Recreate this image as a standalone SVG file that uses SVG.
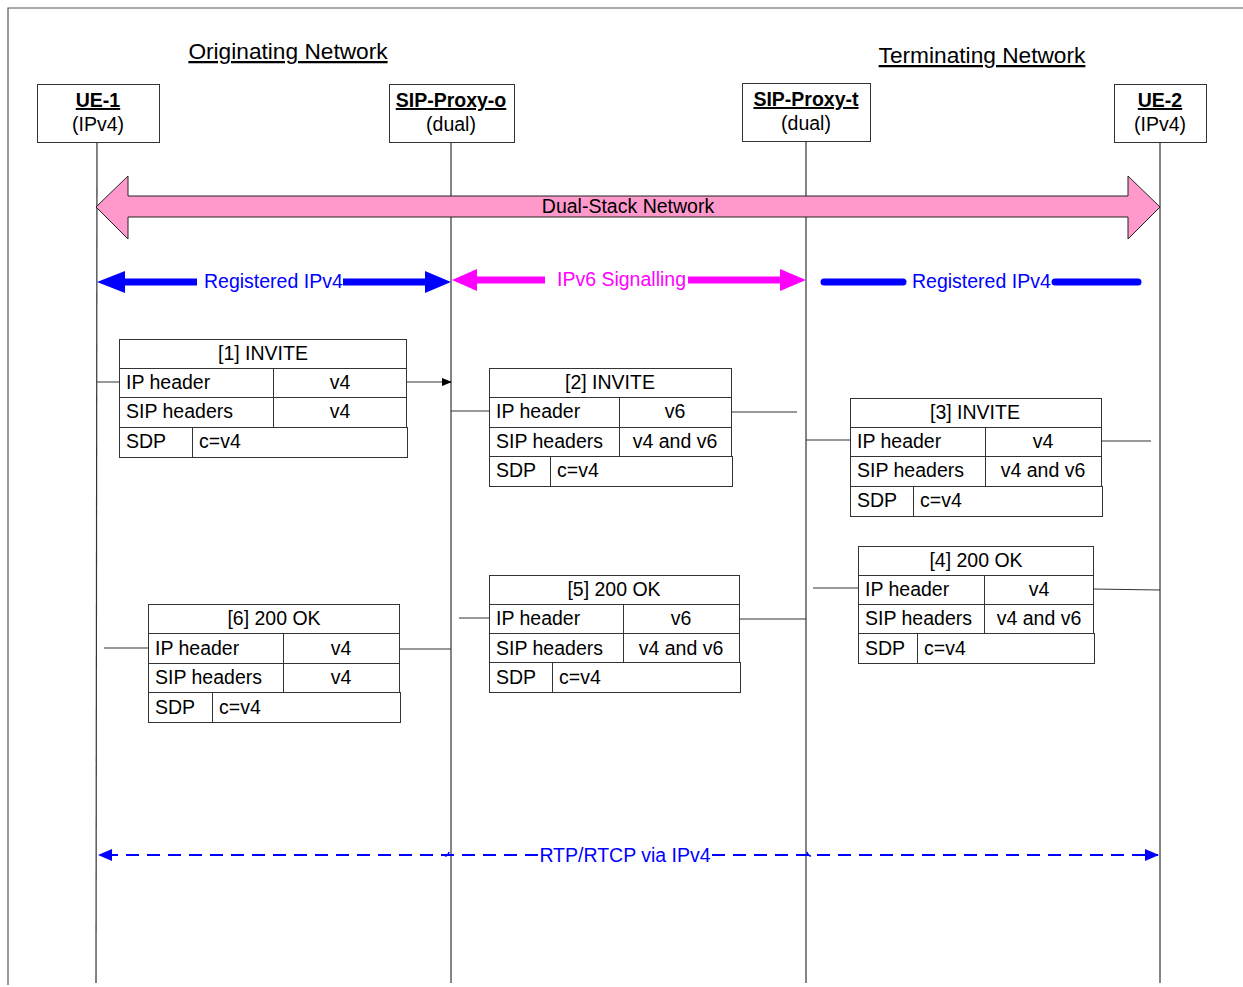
<svg xmlns="http://www.w3.org/2000/svg" width="1243" height="987" viewBox="0 0 1243 987">
<style>
text{font-family:"Liberation Sans",Arial,sans-serif;font-size:19.5px;fill:#000}
.c{text-anchor:middle}
.u{text-decoration:underline}
.b{font-weight:bold}
.box{fill:#fff;stroke:#333;stroke-width:1}
.life{stroke:#333;stroke-width:1.2;fill:none}
.ln{stroke:#333;stroke-width:1;fill:none}
.cell{fill:#fff;stroke:#333;stroke-width:1}
.blue{fill:#0000ff}
.mag{fill:#ff00ff}
</style>
<defs>
<marker id="ah" markerWidth="10" markerHeight="8" refX="9" refY="4" orient="auto" markerUnits="userSpaceOnUse"><path d="M0,0 L10,4 L0,8 Z" fill="#000"/></marker>
<marker id="bh" markerWidth="14" markerHeight="12" refX="13" refY="6" orient="auto" markerUnits="userSpaceOnUse"><path d="M0,0 L14,6 L0,12 Z" fill="#0000ff"/></marker>
</defs>
<rect width="1243" height="987" fill="#fff"/>
<path d="M8,985 L8,8 L1243,8" stroke="#555" stroke-width="1.2" fill="none"/>
<text class="c u" x="288" y="59" style="font-size:22.7px">Originating Network</text>
<text class="c u" x="982" y="63" style="font-size:22.7px">Terminating Network</text>

<g id="lifelines">
<line class="life" x1="97" y1="142" x2="96" y2="983"/>
<line class="life" x1="451" y1="142" x2="451" y2="983"/>
<line class="life" x1="806" y1="141" x2="806" y2="983"/>
<line class="life" x1="1160" y1="142" x2="1160" y2="983"/>
</g>

<g id="ue1"><rect class="box" x="37.5" y="84.5" width="122" height="58"/><text class="c b u" x="98" y="107">UE-1</text><text class="c" x="98" y="131">(IPv4)</text></g>
<g id="proxy-o"><rect class="box" x="389.5" y="84.5" width="125" height="58"/><text class="c b u" x="451" y="107">SIP-Proxy-o</text><text class="c" x="451" y="131">(dual)</text></g>
<g id="proxy-t"><rect class="box" x="742.5" y="83.5" width="128" height="58"/><text class="c b u" x="806" y="106">SIP-Proxy-t</text><text class="c" x="806" y="130">(dual)</text></g>
<g id="ue2"><rect class="box" x="1114.5" y="84.5" width="92" height="58"/><text class="c b u" x="1160" y="107">UE-2</text><text class="c" x="1160" y="131">(IPv4)</text></g>

<g id="dual-stack">
<path d="M96,207 L128,176 L128,196 L1128,196 L1128,176 L1160,207 L1128,239 L1128,217 L128,217 L128,239 Z" fill="#ff99cc" stroke="#222" stroke-width="1"/>
<text class="c" x="628" y="213">Dual-Stack Network</text>
</g>

<g id="reg-left">
<line x1="120" y1="282" x2="197" y2="282" stroke="#0000ff" stroke-width="7"/>
<line x1="343" y1="282" x2="430" y2="282" stroke="#0000ff" stroke-width="7"/>
<polygon points="97,282 125,271 125,293" class="blue"/>
<polygon points="451,282 425,271 425,293" class="blue"/>
<text x="204" y="288" style="fill:#0000ff">Registered IPv4</text>
</g>
<g id="ipv6-sig">
<line x1="472" y1="280" x2="545" y2="280" stroke="#ff00ff" stroke-width="7"/>
<line x1="688" y1="280" x2="785" y2="280" stroke="#ff00ff" stroke-width="7"/>
<polygon points="452,280 477,269 477,291" class="mag"/>
<polygon points="806,280 780,269 780,291" class="mag"/>
<text x="557" y="286" style="fill:#ff00ff">IPv6 Signalling</text>
</g>
<g id="reg-right">
<line x1="824" y1="282" x2="903" y2="282" stroke="#0000ff" stroke-width="7" stroke-linecap="round"/>
<line x1="1055" y1="282" x2="1138" y2="282" stroke="#0000ff" stroke-width="7" stroke-linecap="round"/>
<text x="912" y="288" style="fill:#0000ff">Registered IPv4</text>
</g>

<g id="connectors">
<line class="ln" x1="97" y1="382" x2="119" y2="382"/>
<line class="ln" x1="407" y1="382" x2="451" y2="382" marker-end="url(#ah)"/>
<line class="ln" x1="451" y1="411" x2="489" y2="411"/>
<line class="ln" x1="731" y1="412" x2="797" y2="412"/>
<line class="ln" x1="806" y1="440" x2="850" y2="440"/>
<line class="ln" x1="1101" y1="441" x2="1151" y2="441"/>
<line class="ln" x1="813" y1="588" x2="858" y2="588"/>
<line class="ln" x1="1093" y1="589" x2="1160" y2="590"/>
<line class="ln" x1="459" y1="618" x2="489" y2="618"/>
<line class="ln" x1="739" y1="619" x2="806" y2="619"/>
<line class="ln" x1="104" y1="648" x2="148" y2="648"/>
<line class="ln" x1="399" y1="649" x2="451" y2="649"/>
</g>

<g id="msg1">
<rect class="cell" x="119.5" y="339.5" width="287" height="29"/>
<rect class="cell" x="119.5" y="368.5" width="287" height="29"/>
<rect class="cell" x="119.5" y="397.5" width="287" height="30"/>
<rect class="cell" x="119.5" y="427.5" width="288" height="30"/>
<line class="ln" x1="273.5" y1="368" x2="273.5" y2="427"/>
<line class="ln" x1="192.5" y1="427" x2="192.5" y2="457"/>
<text class="c" x="263" y="360">[1] INVITE</text>
<text x="126" y="389">IP header</text><text class="c" x="340" y="389">v4</text>
<text x="126" y="418">SIP headers</text><text class="c" x="340" y="418">v4</text>
<text x="126" y="448">SDP</text><text x="199" y="448">c=v4</text>
</g>
<g id="msg2">
<rect class="cell" x="489.5" y="368.5" width="242" height="29"/>
<rect class="cell" x="489.5" y="397.5" width="242" height="30"/>
<rect class="cell" x="489.5" y="427.5" width="242" height="29"/>
<rect class="cell" x="489.5" y="456.5" width="243" height="30"/>
<line class="ln" x1="619.5" y1="397" x2="619.5" y2="456"/>
<line class="ln" x1="550.5" y1="456" x2="550.5" y2="486"/>
<text class="c" x="610" y="389">[2] INVITE</text>
<text x="496" y="418">IP header</text><text class="c" x="675" y="418">v6</text>
<text x="496" y="448">SIP headers</text><text class="c" x="675" y="448">v4 and v6</text>
<text x="496" y="477">SDP</text><text x="557" y="477">c=v4</text>
</g>
<g id="msg3">
<rect class="cell" x="850.5" y="398.5" width="251" height="29"/>
<rect class="cell" x="850.5" y="427.5" width="251" height="29"/>
<rect class="cell" x="850.5" y="456.5" width="251" height="30"/>
<rect class="cell" x="850.5" y="486.5" width="252" height="30"/>
<line class="ln" x1="985.5" y1="427" x2="985.5" y2="486"/>
<line class="ln" x1="913.5" y1="486" x2="913.5" y2="516"/>
<text class="c" x="975" y="419">[3] INVITE</text>
<text x="857" y="448">IP header</text><text class="c" x="1043" y="448">v4</text>
<text x="857" y="477">SIP headers</text><text class="c" x="1043" y="477">v4 and v6</text>
<text x="857" y="507">SDP</text><text x="920" y="507">c=v4</text>
</g>
<g id="msg4">
<rect class="cell" x="858.5" y="546.5" width="235" height="29"/>
<rect class="cell" x="858.5" y="575.5" width="235" height="29"/>
<rect class="cell" x="858.5" y="604.5" width="235" height="29"/>
<rect class="cell" x="858.5" y="633.5" width="236" height="30"/>
<line class="ln" x1="984.5" y1="575" x2="984.5" y2="633"/>
<line class="ln" x1="917.5" y1="633" x2="917.5" y2="663"/>
<text class="c" x="976" y="567">[4] 200 OK</text>
<text x="865" y="596">IP header</text><text class="c" x="1039" y="596">v4</text>
<text x="865" y="625">SIP headers</text><text class="c" x="1039" y="625">v4 and v6</text>
<text x="865" y="655">SDP</text><text x="924" y="655">c=v4</text>
</g>
<g id="msg5">
<rect class="cell" x="489.5" y="575.5" width="250" height="29"/>
<rect class="cell" x="489.5" y="604.5" width="250" height="29"/>
<rect class="cell" x="489.5" y="633.5" width="250" height="29"/>
<rect class="cell" x="489.5" y="662.5" width="251" height="30"/>
<line class="ln" x1="623.5" y1="604" x2="623.5" y2="662"/>
<line class="ln" x1="552.5" y1="662" x2="552.5" y2="692"/>
<text class="c" x="614" y="596">[5] 200 OK</text>
<text x="496" y="625">IP header</text><text class="c" x="681" y="625">v6</text>
<text x="496" y="655">SIP headers</text><text class="c" x="681" y="655">v4 and v6</text>
<text x="496" y="684">SDP</text><text x="559" y="684">c=v4</text>
</g>
<g id="msg6">
<rect class="cell" x="148.5" y="604.5" width="251" height="29"/>
<rect class="cell" x="148.5" y="633.5" width="251" height="30"/>
<rect class="cell" x="148.5" y="663.5" width="251" height="29"/>
<rect class="cell" x="148.5" y="692.5" width="252" height="30"/>
<line class="ln" x1="283.5" y1="633" x2="283.5" y2="692"/>
<line class="ln" x1="212.5" y1="692" x2="212.5" y2="722"/>
<text class="c" x="274" y="625">[6] 200 OK</text>
<text x="155" y="655">IP header</text><text class="c" x="341" y="655">v4</text>
<text x="155" y="684">SIP headers</text><text class="c" x="341" y="684">v4</text>
<text x="155" y="714">SDP</text><text x="219" y="714">c=v4</text>
</g>

<g id="rtp">
<line x1="538" y1="855" x2="99" y2="855" stroke="#0000ff" stroke-width="2" stroke-dasharray="13,8" marker-end="url(#bh)"/>
<line x1="712" y1="855" x2="1158" y2="855" stroke="#0000ff" stroke-width="2" stroke-dasharray="13,8" marker-end="url(#bh)"/>
<path d="M445,856 Q448,856 449,852" fill="none" stroke="#0000ff" stroke-width="1.5"/>
<path d="M807,852 Q808,856 811,856" fill="none" stroke="#0000ff" stroke-width="1.5"/>
<text class="c" x="625" y="862" style="fill:#0000ff">RTP/RTCP via IPv4</text>
</g>
</svg>
